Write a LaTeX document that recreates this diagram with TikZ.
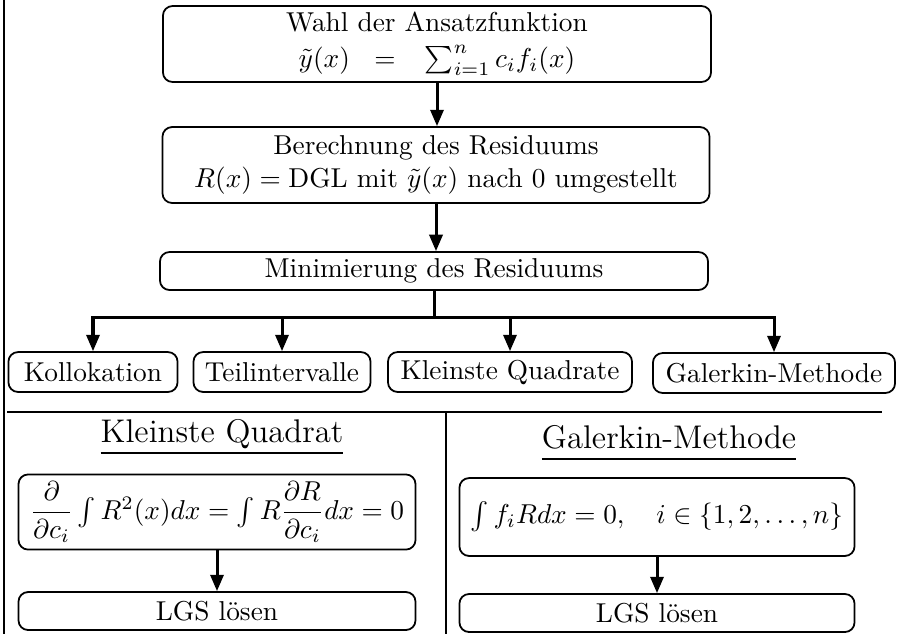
\documentclass[tikz,border=0pt]{standalone}
\usepackage{amsmath}
\usetikzlibrary{arrows.meta}

\begin{document}
\begin{tikzpicture}[x=0.366pt,y=-0.366pt,
  box/.style={draw, line width=0.65pt, rounded corners=3.5pt, align=center, inner sep=0pt},
  arr/.style={line width=1.1pt, -{Triangle[length=6pt,width=4.8pt]}},
  rule/.style={line width=0.65pt}]
  \useasboundingbox (0,0) rectangle (905,634);
  % margin line on the left
  \draw[rule] (4,0) -- (4,634);
  % main chain
  \node[box, minimum width=200.6pt, minimum height=27.8pt] (wahl) at (437,44)
    {Wahl der Ansatzfunktion\\[1pt] $\tilde{y}(x)\hspace{9pt}{=}\hspace{9pt}\sum_{i=1}^{n} c_i f_i(x)$};
  \node[box, minimum width=200.2pt, minimum height=27.8pt] (resid) at (436,165)
    {Berechnung des Residuums\\ $R(x)=\mathrm{DGL}$ mit $\tilde{y}(x)$ nach $0$ umgestellt};
  \node[box, minimum width=200.6pt, minimum height=13.9pt] (minim) at (434,271)
    {Minimierung des Residuums};
  \draw[arr] (wahl.south) -- (wahl.south |- resid.north);
  \draw[arr] (resid.south) -- (resid.south |- minim.north);
  % the four methods
  \node[box, minimum width=61.9pt, minimum height=14.6pt] (kollo) at (93,372) {Kollokation};
  \node[box, minimum width=64.8pt, minimum height=14.6pt] (teil) at (282,372) {Teilintervalle};
  \node[box, minimum width=89.3pt, minimum height=14.6pt] (kq) at (510,372) {Kleinste Quadrate};
  \node[box, minimum width=88.6pt, minimum height=14.6pt] (gal) at (774,373) {Galerkin-Methode};
  % branch to the methods
  \coordinate (split) at (434,317);
  \draw[line width=1.1pt] (minim.south) -- (split);
  \foreach \m in {kollo,teil,kq,gal}
    \draw[arr] (split) -| (\m);
  % separating lines
  \draw[rule] (7,412) -- (882,412);
  \draw[rule] (446,412) -- (446,634);
  % left part: least squares
  \node (tkq) at (222,437) {\large\underline{Kleinste Quadrat}};
  \node[box, minimum width=145.3pt, minimum height=27.5pt] (kqeq) at (217,512)
    {$\dfrac{\partial}{\partial c_i}\int R^2(x)dx=\int R\dfrac{\partial R}{\partial c_i}dx=0$};
  \node[box, minimum width=145.3pt, minimum height=13.9pt] (kqlgs) at (217,611) {LGS l\"osen};
  \draw[arr] (kqeq) -- (kqlgs);
  % right part: Galerkin
  \node (tgal) at (669,443) {\large\underline{Galerkin-Methode\vphantom{Q}}};
  \node[box, minimum width=144.6pt, minimum height=28.5pt] (galeq) at (657,517)
    {$\int f_iRdx=0,\quad i\in\{1,2,\ldots,n\}$};
  \node[box, minimum width=144.6pt, minimum height=13.9pt] (gallgs) at (657,613) {LGS l\"osen};
  \draw[arr] (galeq) -- (gallgs);
\end{tikzpicture}
\end{document}
